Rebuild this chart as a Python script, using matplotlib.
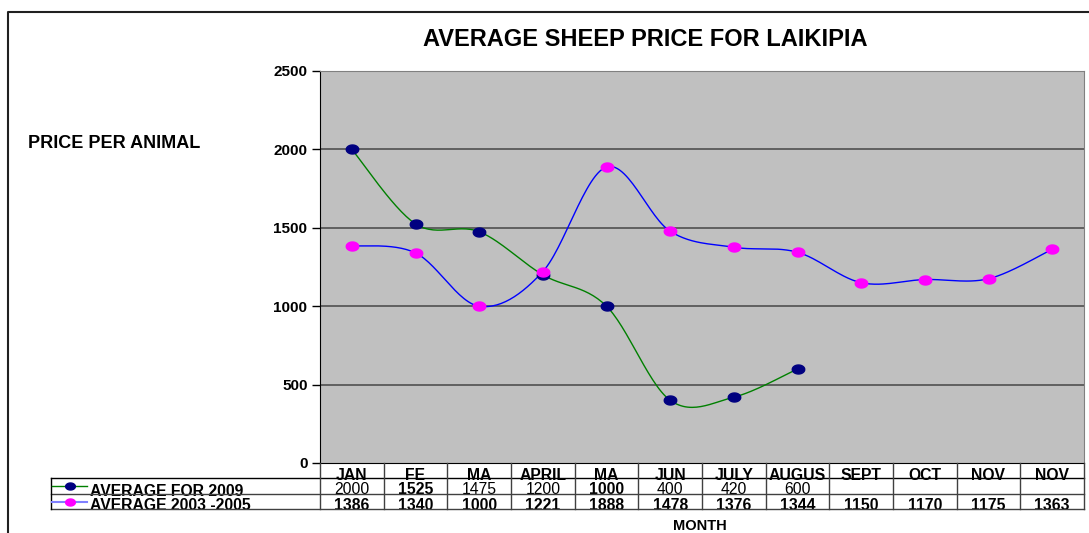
import numpy as np
import matplotlib
matplotlib.use("Agg")
import matplotlib.pyplot as plt
from matplotlib.lines import Line2D
from matplotlib.path import Path

plt.rcParams['font.family'] = ['Liberation Sans', 'DejaVu Sans']

months = ["JAN", "FE", "MA", "APRIL", "MA", "JUN", "JULY", "AUGUS",
          "SEPT", "OCT", "NOV", "NOV"]
avg_2009 = [2000, 1525, 1475, 1200, 1000, 400, 420, 600]
avg_2003_2005 = [1386, 1340, 1000, 1221, 1888, 1478, 1376, 1344,
                 1150, 1170, 1175, 1363]
bold_2009 = [False, True, False, False, True, False, False, False]
yticks = [0, 500, 1000, 1500, 2000, 2500]


def smooth(xs, ys, n=30):
    # excel style smoothed line (catmull-rom bezier)
    xs = np.asarray(xs, float)
    ys = np.asarray(ys, float)
    px = np.concatenate([[xs[0]], xs, [xs[-1]]])
    py = np.concatenate([[ys[0]], ys, [ys[-1]]])
    out_x, out_y = [], []
    t = np.linspace(0, 1, n)
    for i in range(1, len(px) - 2):
        p0 = np.array([px[i], py[i]])
        p3 = np.array([px[i + 1], py[i + 1]])
        p1 = p0 + (np.array([px[i + 1], py[i + 1]]) - np.array([px[i - 1], py[i - 1]])) / 6
        p2 = p3 - (np.array([px[i + 2], py[i + 2]]) - np.array([px[i], py[i]])) / 6
        b = ((1 - t) ** 3)[:, None] * p0 + (3 * (1 - t) ** 2 * t)[:, None] * p1 \
            + (3 * (1 - t) * t ** 2)[:, None] * p2 + (t ** 3)[:, None] * p3
        out_x.extend(b[:, 0])
        out_y.extend(b[:, 1])
    return out_x, out_y


# flat oval marker like excel's
ang = np.linspace(0, 2 * np.pi, 40)
oval = Path(np.column_stack([np.cos(ang), 0.72 * np.sin(ang)]))

W, H = 1089, 533
fig = plt.figure(figsize=(W / 100, H / 100), dpi=100)

# plot area in pixels
L, R, T, B = 320, 1084, 71, 463
ax = fig.add_axes([L / W, 1 - B / H, (R - L) / W, (B - T) / H])
ax.set_facecolor('#c0c0c0')
ax.set_xlim(0, len(months))
ax.set_ylim(0, 2500)
ax.set_yticks(yticks)
ax.set_yticklabels([str(v) for v in yticks], fontsize=11, fontweight='bold')
ax.tick_params(axis='y', direction='out', length=6, width=1, pad=3)
ax.set_xticks([])
for v in yticks[1:-1]:
    ax.axhline(v, color='#505050', lw=1.2, zorder=1)
for s in ['top', 'right']:
    ax.spines[s].set_color('#808080')
ax.spines['left'].set_color('black')
ax.spines['bottom'].set_color('black')

x1 = np.arange(len(avg_2009)) + 0.5
x2 = np.arange(len(avg_2003_2005)) + 0.5
sx, sy = smooth(x1, avg_2009)
ax.plot(sx, sy, color='#008000', lw=1, zorder=3)
sx, sy = smooth(x2, avg_2003_2005)
ax.plot(sx, sy, color='#0000ff', lw=1, zorder=3)
ax.plot(x1, avg_2009, marker=oval, ls='none', color='#000080', ms=9, zorder=4)
ax.plot(x2, avg_2003_2005, marker=oval, ls='none', color='#ff00ff', ms=9, zorder=5)

# overlay for title, labels and data table (pixel coords)
ov = fig.add_axes([0, 0, 1, 1])
ov.set_xlim(0, W)
ov.set_ylim(H, 0)
ov.axis('off')
ov.patch.set_alpha(0)

# outer chart border
ov.plot([8, 8, W], [H, 12, 12], color='#202020', lw=1.5)

ov.text(645, 40, "AVERAGE SHEEP PRICE FOR LAIKIPIA", ha='center', va='center',
        fontsize=17, fontweight='bold')
ov.text(28, 143, "PRICE PER ANIMAL", ha='left', va='center',
        fontsize=13, fontweight='bold')
ov.text(700, 526, "MONTH", ha='center', va='center', fontsize=10.5, fontweight='bold')

cw = (R - L) / len(months)
r1, r2, r3 = 478, 494, 509
tc = '#404040'
ov.plot([51, R], [r1, r1], color='black', lw=1)
ov.plot([51, R], [r2, r2], color=tc, lw=1)
ov.plot([51, R], [r3, r3], color=tc, lw=1)
ov.plot([51, 51], [r1, r3], color='black', lw=1)
for i in range(len(months) + 1):
    ov.plot([L + i * cw] * 2, [B, r3], color=tc, lw=1)

for i, m in enumerate(months):
    cx = L + (i + 0.5) * cw
    ov.text(cx, 475, m, ha='center', va='center', fontsize=11.3, fontweight='bold', zorder=1)
    if i < len(avg_2009):
        ov.text(cx, 490, str(avg_2009[i]), ha='center', va='center', fontsize=11.3,
                fontweight='bold' if bold_2009[i] else 'normal', zorder=1)
    ov.text(cx, 505, str(avg_2003_2005[i]), ha='center', va='center', fontsize=11.3,
            fontweight='bold', zorder=1)

# legend keys inside the table
ov.add_line(Line2D([52, 87], [486, 486], color='#008000', lw=1))
ov.plot([70], [486], marker=oval, color='#000080', ms=7)
ov.add_line(Line2D([52, 87], [502, 502], color='#8080ff', lw=1.5))
ov.plot([70], [502], marker=oval, color='#ff00ff', ms=7)
ov.text(90, 491, "AVERAGE FOR 2009", ha='left', va='center', fontsize=11.3,
        fontweight='bold', zorder=1)
ov.text(90, 506, "AVERAGE 2003 -2005", ha='left', va='center', fontsize=11.3,
        fontweight='bold', zorder=1)

fig.savefig("out.png", dpi=100)
